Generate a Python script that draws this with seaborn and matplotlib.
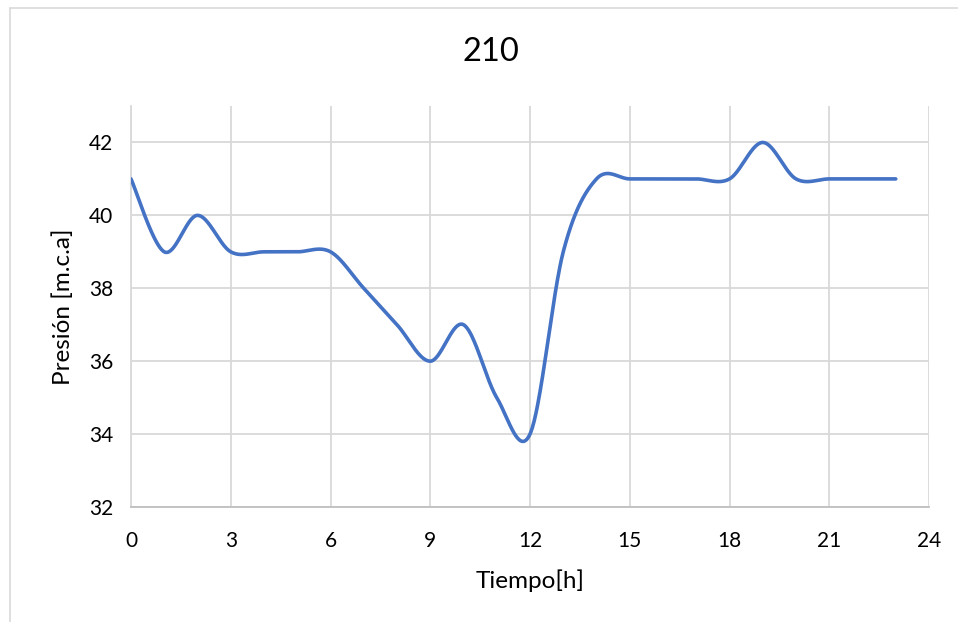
import numpy as np
import pandas as pd
import matplotlib
matplotlib.use("Agg")
import matplotlib.pyplot as plt
from matplotlib.lines import Line2D
import seaborn as sns

# Hourly pressure readings at node 210
hours = list(range(24))
pressure = [41, 39, 40, 39, 39, 39, 39, 38, 37, 36, 37, 35,
            34, 39, 41, 41, 41, 41, 41, 42, 41, 41, 41, 41]
x_ticks = [0, 3, 6, 9, 12, 15, 18, 21, 24]
y_ticks = [32, 34, 36, 38, 40, 42]
title = "210"
x_label = "Tiempo[h]"
y_label = "Presión [m.c.a]"

LINE_COLOR = "#4472C4"
GRID_COLOR = "#d9d9d9"
TEXT_COLOR = "#000000"


def smooth_curve(xs, ys, steps=40):
    """Cubic Bezier smoothing through every point (spreadsheet-style)."""
    p = np.column_stack([xs, ys]).astype(float)
    n = len(p)
    out = []
    for i in range(n - 1):
        p0 = p[i - 1] if i > 0 else p[i]
        p1 = p[i]
        p2 = p[i + 1]
        p3 = p[i + 2] if i + 2 < n else p[i + 1]
        c1 = p1 + (p2 - p0) / 6.0
        c2 = p2 - (p3 - p1) / 6.0
        t = np.linspace(0, 1, steps, endpoint=(i == n - 2))[:, None]
        seg = ((1 - t) ** 3) * p1 + 3 * ((1 - t) ** 2) * t * c1 \
            + 3 * (1 - t) * (t ** 2) * c2 + (t ** 3) * p2
        out.append(seg)
    return np.vstack(out)


sns.set_theme(style="white")
plt.rcParams["font.family"] = ["Lato", "DejaVu Sans"]

fig = plt.figure(figsize=(9.58, 6.22), dpi=100)
ax = fig.add_axes([131 / 958, 1 - 507 / 622, (929 - 131) / 958, (507 - 106) / 622])

curve = smooth_curve(hours, pressure)
df = pd.DataFrame({"Tiempo": curve[:, 0], "Presion": curve[:, 1]})
sns.lineplot(data=df, x="Tiempo", y="Presion", ax=ax, color=LINE_COLOR,
             linewidth=2.6, sort=False, estimator=None,
             solid_capstyle="round", solid_joinstyle="round", zorder=3)

ax.set_xlim(0, 24)
ax.set_ylim(32, 43)
ax.set_xticks(x_ticks)
ax.set_yticks(y_ticks)
ax.set_xticklabels([str(v) for v in x_ticks])
ax.set_yticklabels([str(v) for v in y_ticks])

ax.grid(True, color=GRID_COLOR, linewidth=1.3, zorder=0)
ax.set_axisbelow(True)
for side in ["top", "right"]:
    ax.spines[side].set_visible(False)
ax.spines["left"].set_color(GRID_COLOR)
ax.spines["left"].set_linewidth(1.3)
ax.spines["bottom"].set_color("#bfbfbf")
ax.spines["bottom"].set_linewidth(1.3)

ax.tick_params(axis="both", length=0, labelsize=15, colors=TEXT_COLOR)
ax.tick_params(axis="x", pad=17)
ax.tick_params(axis="y", pad=13)

ax.set_xlabel(x_label, fontsize=17.5, color=TEXT_COLOR)
ax.set_ylabel(y_label, fontsize=17.5, color=TEXT_COLOR)
ax.xaxis.set_label_coords(0.5, -0.155)
ax.yaxis.set_label_coords(-0.072, 0.5)

fig.text(491 / 958, 1 - 52 / 622, title, fontsize=23.5, ha="center",
         va="center", color=TEXT_COLOR)

# Outer chart frame
fx = 9.5 / 958
fy = 1 - 7.5 / 622
fig.add_artist(Line2D([fx, fx], [0, fy], transform=fig.transFigure,
                      color="#d9d9d9", linewidth=1.2))
fig.add_artist(Line2D([fx, 1], [fy, fy], transform=fig.transFigure,
                      color="#d9d9d9", linewidth=1.2))

fig.savefig("out.png", dpi=100, facecolor="white")
